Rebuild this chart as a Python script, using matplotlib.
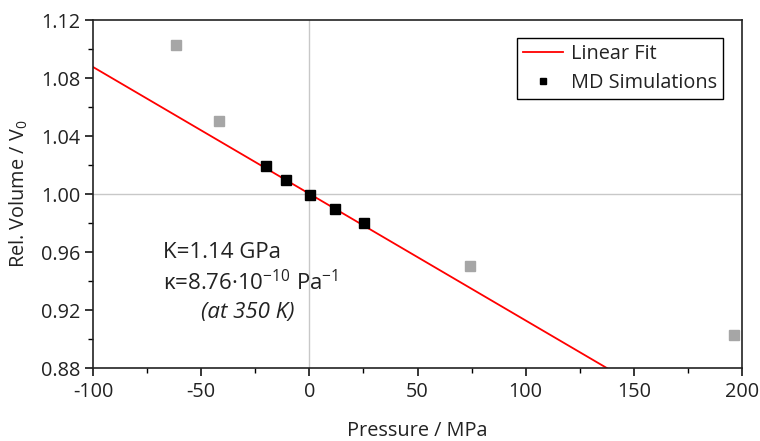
import matplotlib
matplotlib.use("Agg")
import matplotlib.pyplot as plt
from matplotlib.ticker import MultipleLocator, FixedLocator

plt.rcParams['font.family'] = ['Open Sans', 'DejaVu Sans']
plt.rcParams['mathtext.fontset'] = 'custom'
plt.rcParams['mathtext.rm'] = 'Open Sans'
plt.rcParams['mathtext.it'] = 'Open Sans:italic'

# Data
md_fit_x = [-20.2, -10.6, 0.2, 12.0, 25.3]
md_fit_y = [1.0195, 1.0097, 0.9993, 0.9897, 0.9800]
md_out_x = [-61.5, -41.6, 74.3, 196.5]
md_out_y = [1.1028, 1.0506, 0.9506, 0.9030]
fit_x = [-100, 137.5]
fit_y = [1.0876, 0.8800]

x_ticks = [-100, -50, 0, 50, 100, 150, 200]
y_ticks = [0.88, 0.92, 0.96, 1.00, 1.04, 1.08, 1.12]

TXT = '#222222'
fig = plt.figure(figsize=(7.6, 4.41), dpi=100)
ax = fig.add_axes([0.1224, 0.1655, 0.8539, 0.7891])

ax.axvline(0, color='#c8c8c8', lw=1.0, zorder=0)
ax.axhline(1.0, color='#c8c8c8', lw=1.0, zorder=0)

ax.plot(fit_x, fit_y, color='#ff0000', lw=1.3, label='Linear Fit', zorder=2)
ax.plot(md_out_x, md_out_y, ls='none', marker='s', ms=6.5, color='#a6a6a6', zorder=3)
ax.plot(md_fit_x, md_fit_y, ls='none', marker='s', ms=6.5, color='black',
        label='MD Simulations', zorder=4)

ax.set_xlim(-100, 200)
ax.set_ylim(0.88, 1.12)
ax.xaxis.set_major_locator(FixedLocator(x_ticks))
ax.yaxis.set_major_locator(FixedLocator(y_ticks))
ax.xaxis.set_minor_locator(MultipleLocator(25))
ax.yaxis.set_minor_locator(MultipleLocator(0.02))
ax.set_xticklabels([f"{v:d}" for v in x_ticks])
ax.set_yticklabels([f"{v:.2f}" for v in y_ticks])
ax.tick_params(which='major', direction='out', length=6, width=1.1, labelsize=14.3, colors='black')
ax.tick_params(which='minor', direction='out', length=3.5, width=1.0)
ax.tick_params(axis='y', labelcolor=TXT, pad=3)
ax.tick_params(axis='x', labelcolor=TXT, pad=4)
for s in ax.spines.values():
    s.set_linewidth(1.2)
    s.set_color('#222222')

ax.set_xlabel('Pressure / MPa', fontsize=14.3, color=TXT, labelpad=14)
ax.set_ylabel('Rel. Volume / V$_0$', fontsize=14.3, color=TXT, labelpad=8)

leg = ax.legend(loc='upper right', bbox_to_anchor=(0.971, 0.948), fontsize=14.3,
                frameon=True, fancybox=False, edgecolor='black', framealpha=1,
                handlelength=2.0, handletextpad=0.4, borderpad=0.3, labelspacing=0.45,
                borderaxespad=0, markerscale=0.75)
leg.get_frame().set_linewidth(1.0)
for t in leg.get_texts():
    t.set_color(TXT)

ax.text(-67.6, 0.960, 'K=1.14 GPa', fontsize=16, color=TXT, ha='left', va='center')
ax.text(-67.6, 0.9386, r'κ=8.76·10$^{\mathregular{-10}}$ Pa$^{\mathregular{-1}}$',
        fontsize=16, color=TXT, ha='left', va='center')
ax.text(-28.6, 0.918, '(at 350 K)', fontsize=16, color=TXT, ha='center', va='center',
        style='italic')

fig.savefig('out.png', dpi=100)
